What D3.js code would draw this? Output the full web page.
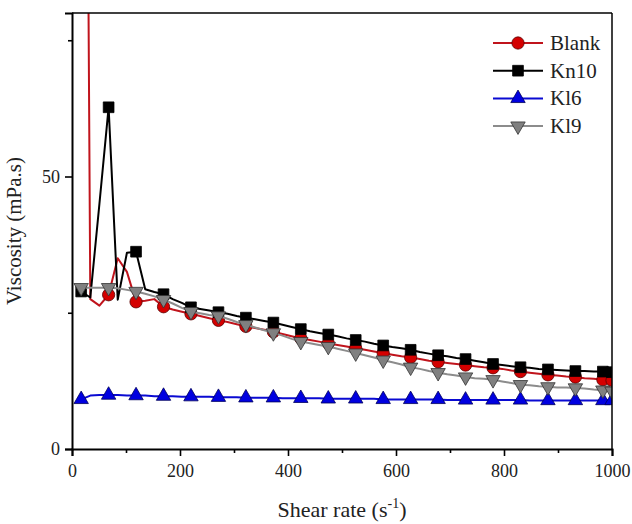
<!DOCTYPE html>
<html>
<head>
<meta charset="utf-8">
<script src="https://cdn.jsdelivr.net/npm/d3@7"></script>
<style>
  body { margin: 0; background: #fff; }
</style>
</head>
<body>
<div id="chart"></div>
<script>
// 1: DATA
const shearRate = [17.0, 33.9, 50.8, 67.8, 84.7, 101.7, 118.6, 135.6, 152.5, 169.5,
  186.4, 203.4, 220.3, 237.3, 254.2, 271.2, 288.1, 305.1, 322.0, 339.0,
  355.9, 372.9, 389.8, 406.8, 423.7, 440.7, 457.6, 474.6, 491.5, 508.5,
  525.4, 542.4, 559.3, 576.3, 593.2, 610.2, 627.1, 644.1, 661.0, 678.0,
  694.9, 711.9, 728.8, 745.8, 762.7, 779.7, 796.6, 813.6, 830.5, 847.5,
  864.4, 881.4, 898.3, 915.3, 932.2, 949.2, 966.1, 983.1, 1000];

const blank = [300, 27.5, 26.3, 28.3, 35.0, 32.5, 27.0, 27.2, 27.5, 26.1,
  25.6, 25.2, 24.8, 24.4, 24.0, 23.6, 23.3, 22.9, 22.5, 22.2,
  21.9, 21.5, 21.1, 20.7, 20.3, 20.0, 19.7, 19.4, 19.1, 18.8,
  18.5, 18.2, 17.9, 17.6, 17.3, 17.0, 16.8, 16.5, 16.2, 16.0,
  15.8, 15.6, 15.4, 15.2, 15.0, 14.9, 14.7, 14.4, 14.2, 14.0,
  13.8, 13.6, 13.5, 13.3, 13.2, 13.0, 12.9, 12.7, 12.6];

const kn10 = [28.9, 27.8, 45.0, 62.7, 27.4, 36.0, 36.2, 29.3, 28.8, 28.4,
  27.5, 26.8, 26.0, 25.7, 25.4, 25.1, 24.8, 24.4, 24.1, 23.8,
  23.5, 23.2, 22.8, 22.4, 22.0, 21.6, 21.3, 21.0, 20.7, 20.3,
  20.0, 19.7, 19.3, 19.0, 18.7, 18.5, 18.2, 17.8, 17.5, 17.2,
  17.0, 16.7, 16.5, 16.2, 15.9, 15.6, 15.4, 15.2, 15.0, 14.9,
  14.7, 14.6, 14.5, 14.4, 14.3, 14.3, 14.2, 14.2, 14.1];

const kl6 = [9.1, 9.8, 9.9, 9.9, 9.9, 9.8, 9.8, 9.8, 9.7, 9.7,
  9.7, 9.6, 9.6, 9.6, 9.6, 9.5, 9.5, 9.5, 9.4, 9.4,
  9.4, 9.4, 9.3, 9.3, 9.3, 9.3, 9.3, 9.2, 9.2, 9.2,
  9.2, 9.2, 9.2, 9.1, 9.1, 9.1, 9.1, 9.1, 9.1, 9.1,
  9.0, 9.0, 9.0, 9.0, 9.0, 9.0, 9.0, 9.0, 9.0, 8.9,
  8.9, 8.9, 8.9, 8.9, 8.9, 8.9, 8.9, 8.9, 8.9];

const kl9 = [29.6, 29.6, 29.6, 29.6, 29.5, 29.2, 28.9, 28.5, 28.0, 27.4,
  26.7, 25.9, 25.2, 24.9, 24.6, 24.4, 23.9, 23.3, 22.8, 22.3,
  21.8, 21.3, 20.8, 20.2, 19.7, 19.4, 19.1, 18.8, 18.4, 18.0,
  17.6, 17.2, 16.8, 16.3, 15.9, 15.5, 15.0, 14.7, 14.3, 14.0,
  13.7, 13.5, 13.2, 13.0, 12.9, 12.7, 12.4, 12.1, 11.8, 11.7,
  11.5, 11.4, 11.3, 11.3, 11.2, 11.1, 10.9, 10.8, 10.6];

const seriesNames = ["Blank", "Kn10", "Kl6", "Kl9"];
const xTickValues = [0, 200, 400, 600, 800, 1000];
const xMinorTicks = [100, 300, 500, 700, 900];
const yTickValues = [0, 50];
const yMinorTicks = [25, 75];

// 2: GLOBAL SIZES
const margin = { top: 13, right: 20, bottom: 75, left: 72 };
const width = 632 - margin.left - margin.right;
const height = 524 - margin.top - margin.bottom;
const serif = "Liberation Serif";

const svg = d3.select("#chart")
    .append("svg")
    .attr("width", width + margin.left + margin.right)
    .attr("height", height + margin.top + margin.bottom)
    .append("g")
    .attr("transform", `translate(${margin.left},${margin.top})`);

// 3: SCALES
const xScale = d3.scaleLinear().domain([0, 1000]).range([0, width]);
const yScale = d3.scaleLinear().domain([0, 80]).range([height, 0]);

// style per series
const styles = [
  { values: blank, line: "#c0141c", fill: "#d40000", stroke: "#5a0000", shape: d3.symbolCircle, size: 118, rot: 0 },
  { values: kn10, line: "#000000", fill: "#000000", stroke: "#000000", shape: d3.symbolSquare, size: 115, rot: 0 },
  { values: kl6, line: "#0a0ad2", fill: "#0000e0", stroke: "#00005a", shape: d3.symbolTriangle, size: 90, rot: 0 },
  { values: kl9, line: "#8c8c8c", fill: "#808080", stroke: "#333333", shape: d3.symbolTriangle, size: 90, rot: 180 }
];

svg.append("clipPath").attr("id", "plotClip")
    .append("rect").attr("width", width).attr("height", height);

const plot = svg.append("g").attr("clip-path", "url(#plotClip)");

// 4: LINES + MARKERS
const line = d3.line()
    .x((d, i) => xScale(shearRate[i]))
    .y(d => yScale(d));

// a symbol on every third point, plus the last one
const markerIdx = shearRate.map((d, i) => i).filter(i => i % 3 === 0 || i === shearRate.length - 1);

styles.forEach(s => {
  plot.append("path")
      .datum(s.values)
      .attr("d", line)
      .attr("fill", "none")
      .attr("stroke", s.line)
      .attr("stroke-width", 2)
      .attr("stroke-linejoin", "round");

  plot.selectAll(null)
      .data(markerIdx)
      .enter()
      .append("path")
      .attr("d", d3.symbol().type(s.shape).size(s.size))
      .attr("transform", i => `translate(${xScale(shearRate[i])},${yScale(s.values[i])}) rotate(${s.rot})`)
      .attr("fill", s.fill)
      .attr("stroke", s.stroke)
      .attr("stroke-width", 0.8);
});

// 5: AXES
svg.append("g")
    .attr("transform", `translate(0, ${height})`)
    .call(d3.axisBottom(xScale).tickValues(xTickValues).tickSize(7).tickPadding(8).tickFormat(d3.format("d")));
svg.append("g")
    .attr("transform", `translate(0, ${height})`)
    .call(d3.axisBottom(xScale).tickValues(xMinorTicks).tickSize(4).tickFormat(""))
    .call(g => g.select(".domain").remove());

svg.append("g")
    .call(d3.axisLeft(yScale).tickValues(yTickValues).tickSize(7).tickPadding(5));
svg.append("g")
    .call(d3.axisLeft(yScale).tickValues(yMinorTicks).tickSize(4).tickFormat(""))
    .call(g => g.select(".domain").remove());

svg.selectAll(".domain").attr("stroke-width", 2).attr("stroke", "#000");
svg.selectAll(".tick line").attr("stroke-width", 1.6).attr("stroke", "#000");
svg.selectAll(".tick text")
    .attr("font-family", serif)
    .attr("font-size", 18)
    .attr("fill", "#222");

// top and right frame
svg.append("line").attr("x1", 0).attr("x2", width).attr("y1", 0).attr("y2", 0)
    .attr("stroke", "#000").attr("stroke-width", 1.5);
svg.append("line").attr("x1", width).attr("x2", width).attr("y1", 0).attr("y2", height)
    .attr("stroke", "#000").attr("stroke-width", 1.5);

// 6: LABELS
svg.append("text")
    .attr("x", width / 2)
    .attr("y", height + 68)
    .attr("text-anchor", "middle")
    .attr("font-family", serif)
    .attr("font-size", 22)
    .attr("fill", "#222")
    .call(t => {
      t.append("tspan").text("Shear rate (s");
      t.append("tspan").attr("dy", -9).attr("font-size", 14).text("-1");
      t.append("tspan").attr("dy", 9).text(")");
    });

svg.append("text")
    .attr("transform", "rotate(-90)")
    .attr("x", -height / 2)
    .attr("y", -margin.left + 21)
    .attr("text-anchor", "middle")
    .attr("font-family", serif)
    .attr("font-size", 21)
    .attr("fill", "#222")
    .text("Viscosity (mPa.s)");

// legend
const legend = svg.append("g").attr("transform", "translate(421, 30)");
seriesNames.forEach((name, i) => {
  const s = styles[i];
  const row = legend.append("g").attr("transform", `translate(0, ${i * 27.7})`);
  row.append("line").attr("x1", 0).attr("x2", 50)
      .attr("stroke", s.line).attr("stroke-width", 2);
  row.append("path")
      .attr("d", d3.symbol().type(s.shape).size(s.size))
      .attr("transform", `translate(25,0) rotate(${s.rot})`)
      .attr("fill", s.fill).attr("stroke", s.stroke).attr("stroke-width", 0.8);
  row.append("text")
      .attr("x", 57).attr("y", 7)
      .attr("font-family", serif)
      .attr("font-size", 21)
      .attr("fill", "#222")
      .text(name);
});
</script>
</body>
</html>
